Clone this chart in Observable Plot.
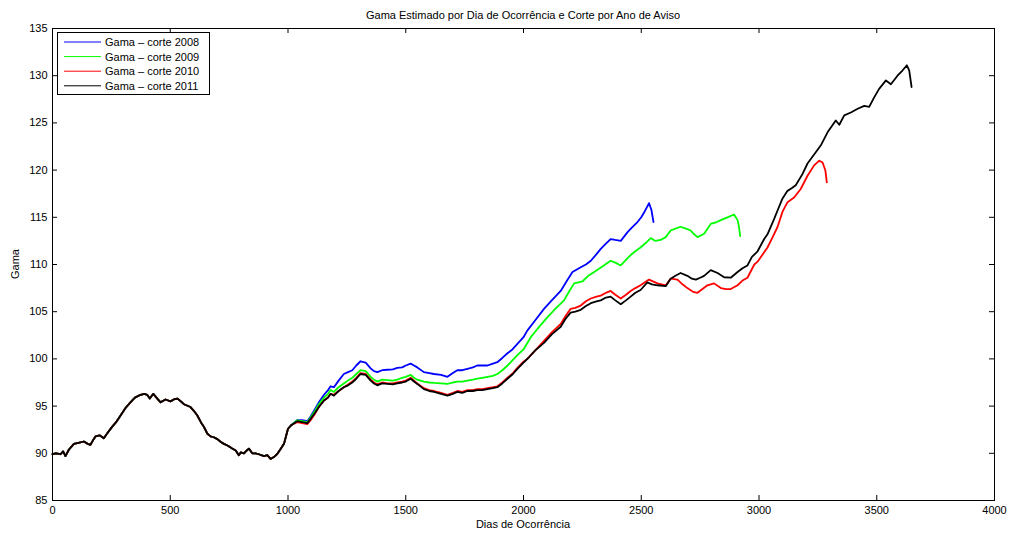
<!DOCTYPE html>
<html><head><meta charset="utf-8">
<script src="https://cdn.jsdelivr.net/npm/d3@7"></script>
<script src="https://cdn.jsdelivr.net/npm/@observablehq/plot@0.6"></script>
<style>body{margin:0;background:#fff} svg{display:block}</style>
</head><body><div id="chart"></div>
<script>
const chartTitle = "Gama Estimado por Dia de Ocorrência e Corte por Ano de Aviso";
const xLabel = "Dias de Ocorrência";
const yLabel = "Gama";
const seriesNames = ["Gama – corte 2008", "Gama – corte 2009", "Gama – corte 2010", "Gama – corte 2011"];
const seriesColors = ["#0000ff", "#00ff00", "#ff0000", "#000000"];
const xTicks = [0, 500, 1000, 1500, 2000, 2500, 3000, 3500, 4000];
const yTicks = [85, 90, 95, 100, 105, 110, 115, 120, 125, 130, 135];

// shared early segment (all cuts coincide)
const comum = [[0,89.9],[15,90.0],[34,89.9],[45,90.2],[55,89.7],[70,90.4],[91,91.0],[110,91.1],[133,91.25],[150,91.0],[161,90.9],[175,91.5],[183,91.8],[200,91.9],[218,91.6],[235,92.2],[253,92.8],[270,93.3],[289,94.0],[310,94.8],[331,95.4],[350,95.9],[374,96.2],[390,96.3],[402,96.2],[413,95.8],[428,96.3],[445,95.8],[459,95.4],[480,95.7],[501,95.5],[515,95.7],[530,95.8],[545,95.5],[558,95.2],[586,94.9],[600,94.5],[615,94.0],[630,93.3],[643,92.8],[657,92.1],[671,91.8],[685,91.7],[700,91.5],[715,91.2],[728,91.0],[745,90.8],[763,90.5],[778,90.3],[791,89.8],[800,90.1],[813,90.0],[825,90.3],[834,90.5],[848,90.0],[862,90.0],[876,89.9],[898,89.7],[912,89.8],[926,89.4],[940,89.6],[955,89.95],[970,90.5],[983,91.0],[1000,92.6],[1015,93.0]];

const corte2008 = [[1039,93.5],[1060,93.5],[1082,93.4],[1096,93.9],[1115,94.7],[1131,95.4],[1153,96.2],[1170,96.7],[1181,97.1],[1195,97.0],[1215,97.7],[1237,98.4],[1255,98.6],[1273,98.8],[1290,99.3],[1308,99.75],[1330,99.6],[1351,99.0],[1365,98.7],[1379,98.6],[1400,98.8],[1422,98.85],[1445,98.9],[1464,99.05],[1485,99.1],[1500,99.3],[1521,99.5],[1535,99.3],[1549,99.1],[1577,98.6],[1600,98.5],[1620,98.4],[1650,98.3],[1677,98.1],[1700,98.5],[1719,98.8],[1740,98.8],[1762,98.95],[1785,99.1],[1804,99.3],[1825,99.3],[1847,99.3],[1870,99.5],[1889,99.65],[1910,100.1],[1932,100.6],[1953,101.0],[1974,101.6],[2000,102.3],[2016,103.0],[2050,104.1],[2087,105.3],[2120,106.2],[2158,107.2],[2185,108.3],[2208,109.2],[2243,109.7],[2265,110.0],[2286,110.4],[2310,111.1],[2328,111.65],[2350,112.2],[2370,112.7],[2390,112.6],[2413,112.5],[2441,113.4],[2460,113.9],[2484,114.5],[2500,115.0],[2512,115.5],[2533,116.5],[2543,115.8],[2552,114.5]];

const corte2009 = [[1039,93.5],[1060,93.4],[1082,93.3],[1096,93.8],[1115,94.5],[1131,95.2],[1153,95.9],[1170,96.3],[1181,96.7],[1195,96.5],[1215,97.0],[1237,97.4],[1255,97.7],[1273,98.0],[1290,98.4],[1308,98.8],[1330,98.7],[1351,98.1],[1365,97.8],[1379,97.6],[1400,97.8],[1422,97.75],[1445,97.7],[1464,97.8],[1485,98.0],[1500,98.1],[1521,98.3],[1535,98.0],[1549,97.8],[1577,97.6],[1600,97.5],[1620,97.45],[1650,97.4],[1677,97.35],[1700,97.5],[1719,97.6],[1740,97.6],[1762,97.7],[1785,97.8],[1804,97.9],[1825,98.0],[1847,98.1],[1870,98.2],[1889,98.4],[1910,98.8],[1932,99.3],[1955,99.9],[1974,100.4],[2000,101.0],[2031,102.3],[2060,103.2],[2101,104.4],[2135,105.3],[2172,106.2],[2195,107.2],[2215,108.0],[2250,108.2],[2275,108.8],[2300,109.2],[2335,109.8],[2370,110.4],[2390,110.2],[2413,109.9],[2435,110.5],[2455,111.0],[2475,111.4],[2497,111.8],[2520,112.3],[2540,112.8],[2560,112.5],[2582,112.6],[2604,112.9],[2625,113.6],[2645,113.8],[2667,114.0],[2690,113.8],[2710,113.6],[2725,113.2],[2739,112.9],[2767,113.25],[2795,114.3],[2820,114.5],[2838,114.7],[2866,115.0],[2894,115.3],[2909,114.7],[2915,114.0],[2920,113.0]];

const corte2010 = [[1039,93.3],[1060,93.2],[1082,93.1],[1096,93.5],[1115,94.2],[1131,94.9],[1153,95.6],[1170,95.9],[1181,96.3],[1195,96.2],[1215,96.6],[1237,97.0],[1255,97.3],[1273,97.6],[1290,98.0],[1308,98.5],[1330,98.4],[1351,97.8],[1365,97.5],[1379,97.3],[1400,97.5],[1422,97.4],[1445,97.4],[1464,97.5],[1485,97.6],[1500,97.7],[1521,98.0],[1535,97.7],[1549,97.4],[1577,96.9],[1600,96.7],[1620,96.6],[1650,96.4],[1677,96.2],[1700,96.4],[1719,96.6],[1740,96.5],[1762,96.7],[1785,96.7],[1804,96.8],[1825,96.8],[1847,96.9],[1870,97.0],[1889,97.1],[1910,97.5],[1932,98.0],[1955,98.5],[1974,99.05],[2000,99.7],[2016,100.0],[2050,100.9],[2087,101.9],[2120,102.8],[2158,103.7],[2180,104.6],[2200,105.3],[2220,105.4],[2243,105.65],[2265,106.1],[2286,106.4],[2310,106.6],[2328,106.7],[2350,107.0],[2370,107.2],[2390,106.8],[2413,106.4],[2435,106.8],[2455,107.2],[2475,107.5],[2497,107.8],[2533,108.4],[2569,108.0],[2604,107.8],[2625,108.5],[2654,108.4],[2675,107.9],[2696,107.5],[2720,107.1],[2739,107.0],[2760,107.4],[2781,107.8],[2809,108.0],[2838,107.5],[2860,107.4],[2880,107.4],[2909,107.8],[2930,108.3],[2951,108.6],[2980,110.0],[2994,110.3],[3036,111.8],[3060,113.0],[3079,114.0],[3100,115.6],[3121,116.6],[3149,117.1],[3177,118.0],[3206,119.4],[3234,120.5],[3256,121.0],[3270,120.8],[3282,119.95],[3288,118.7]];

const corte2011 = [[1039,93.4],[1060,93.3],[1082,93.2],[1096,93.65],[1115,94.3],[1131,94.9],[1153,95.6],[1170,95.9],[1181,96.3],[1195,96.1],[1215,96.6],[1237,97.0],[1255,97.2],[1273,97.5],[1290,97.9],[1308,98.4],[1330,98.3],[1351,97.7],[1365,97.4],[1379,97.2],[1400,97.4],[1422,97.35],[1445,97.3],[1464,97.4],[1485,97.5],[1500,97.6],[1521,97.9],[1535,97.6],[1549,97.35],[1577,96.8],[1600,96.6],[1620,96.5],[1650,96.3],[1677,96.1],[1700,96.3],[1719,96.5],[1740,96.4],[1762,96.6],[1785,96.6],[1804,96.7],[1825,96.7],[1847,96.8],[1870,96.9],[1889,97.0],[1910,97.4],[1932,97.9],[1955,98.4],[1974,98.95],[2000,99.6],[2024,100.2],[2050,100.9],[2087,101.7],[2120,102.6],[2158,103.4],[2180,104.3],[2200,104.9],[2220,105.0],[2243,105.2],[2265,105.6],[2286,105.9],[2310,106.1],[2328,106.2],[2350,106.5],[2370,106.6],[2390,106.2],[2413,105.8],[2435,106.2],[2455,106.6],[2475,107.0],[2497,107.3],[2526,108.1],[2545,107.9],[2569,107.8],[2604,107.7],[2625,108.5],[2645,108.8],[2667,109.1],[2696,108.8],[2715,108.5],[2732,108.4],[2750,108.6],[2767,108.8],[2795,109.4],[2824,109.1],[2852,108.65],[2880,108.6],[2909,109.2],[2930,109.6],[2951,109.9],[2970,110.8],[2994,111.4],[3022,112.7],[3036,113.2],[3064,114.8],[3080,115.8],[3100,117.0],[3121,117.8],[3140,118.1],[3156,118.4],[3185,119.6],[3206,120.7],[3241,121.9],[3262,122.6],[3291,124.0],[3326,125.25],[3341,124.8],[3362,125.8],[3390,126.1],[3419,126.5],[3447,126.8],[3468,126.7],[3489,127.7],[3510,128.6],[3539,129.5],[3560,129.1],[3588,130.0],[3609,130.55],[3628,131.1],[3638,130.55],[3648,128.8]];

const cortes = [corte2008, corte2009, corte2010, corte2011];
const rows = [];
cortes.forEach((arr, i) => comum.concat(arr).forEach(([d, v]) => rows.push({serie: seriesNames[i], dia: d, gama: v})));

const W = 1010, H = 533, mT = 28, mB = 33, mL = 52, mR = 16, tick = 5;
const innerW = W - mL - mR, innerH = H - mT - mB;
const font = "'Liberation Sans', Arial, Helvetica, sans-serif";
const plot = Plot.plot({
  width: W, height: H,
  marginTop: mT, marginBottom: mB, marginLeft: mL, marginRight: mR,
  style: {fontFamily: font, fontSize: "11px", background: "#fff", color: "#000"},
  x: {domain: [0, 4000]},
  y: {domain: [85, 135]},
  color: {domain: seriesNames, range: seriesColors},
  marks: [
    Plot.line(rows, {x: "dia", y: "gama", z: "serie", stroke: "serie", strokeWidth: 1.8}),
    // inward tick marks on all four sides (MATLAB box style)
    Plot.tickX(xTicks, {x: d => d, stroke: "#000", insetTop: innerH - tick}),
    Plot.tickX(xTicks, {x: d => d, stroke: "#000", insetBottom: innerH - tick}),
    Plot.tickY(yTicks, {y: d => d, stroke: "#000", insetRight: innerW - tick}),
    Plot.tickY(yTicks, {y: d => d, stroke: "#000", insetLeft: innerW - tick}),
    Plot.frame({stroke: "#000", strokeWidth: 1}),
    Plot.axisX(xTicks, {anchor: "bottom", tickSize: 0, tickPadding: 6, label: null, tickFormat: d => String(d)}),
    Plot.axisY(yTicks, {anchor: "left", tickSize: 0, tickPadding: 5, label: null, tickFormat: d => String(d)})
  ]
});

const svg = d3.select(plot);
svg.append("text").attr("x", 523).attr("y", 19).attr("text-anchor", "middle")
  .attr("font-family", font).attr("font-size", 11).attr("fill", "#000").text(chartTitle);
svg.append("text").attr("x", 523).attr("y", 528).attr("text-anchor", "middle")
  .attr("font-family", font).attr("font-size", 11).attr("fill", "#000").text(xLabel);
svg.append("text").attr("transform", "translate(19,264) rotate(-90)").attr("text-anchor", "middle")
  .attr("font-family", font).attr("font-size", 11).attr("fill", "#000").text(yLabel);

const lg = svg.append("g");
lg.append("rect").attr("x", 57.5).attr("y", 32.5).attr("width", 152).attr("height", 62)
  .attr("fill", "#fff").attr("stroke", "#000");
seriesNames.forEach((name, i) => {
  const y = 42 + i * 14.6;
  lg.append("line").attr("x1", 64).attr("x2", 101).attr("y1", y).attr("y2", y)
    .attr("stroke", seriesColors[i]).attr("stroke-width", 1);
  lg.append("text").attr("x", 105).attr("y", y + 4).attr("text-anchor", "start").attr("font-family", font)
    .attr("font-size", 11).attr("fill", "#000").text(name);
});

document.getElementById("chart").appendChild(plot);
</script>
</body></html>
